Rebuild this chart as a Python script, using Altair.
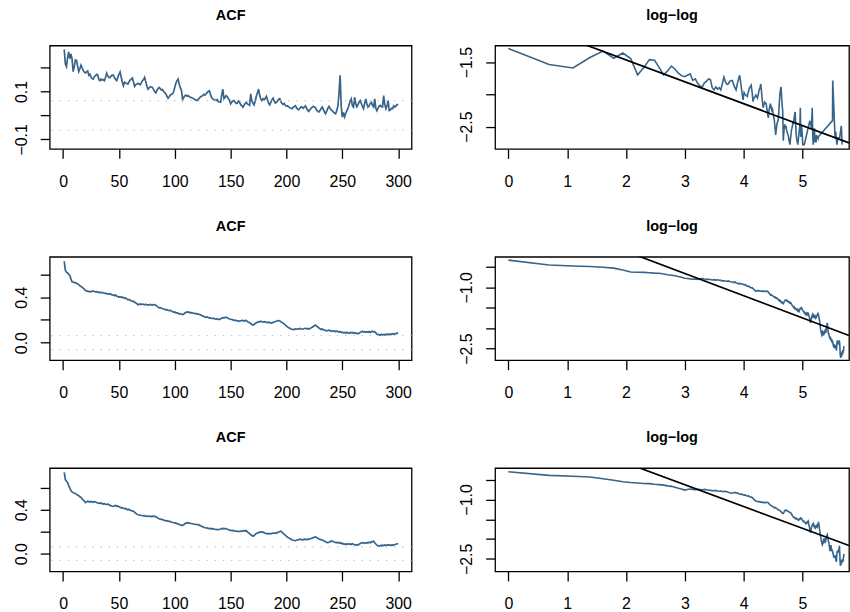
import altair as alt
import numpy as np
import pandas as pd

BLUE = "#36648B"

lags = list(range(1, 301))

acf_top = [
    0.276, 0.215, 0.204, 0.240, 0.265, 0.237, 0.257, 0.236, 0.183, 0.205,
    0.232, 0.230, 0.205, 0.183, 0.195, 0.210, 0.200, 0.188, 0.181, 0.178,
    0.182, 0.186, 0.168, 0.172, 0.160, 0.154, 0.152, 0.162, 0.166, 0.172,
    0.170, 0.150, 0.145, 0.152, 0.147, 0.150, 0.145, 0.160, 0.177, 0.165,
    0.158, 0.159, 0.165, 0.168, 0.168, 0.158, 0.150, 0.145, 0.160, 0.172,
    0.182, 0.160, 0.140, 0.124, 0.139, 0.135, 0.133, 0.131, 0.140, 0.148,
    0.152, 0.156, 0.140, 0.121, 0.128, 0.130, 0.134, 0.131, 0.128, 0.136,
    0.145, 0.150, 0.159, 0.140, 0.122, 0.110, 0.115, 0.120, 0.118, 0.117,
    0.108, 0.100, 0.094, 0.105, 0.112, 0.117, 0.112, 0.106, 0.108, 0.100,
    0.095, 0.090, 0.080, 0.072, 0.078, 0.085, 0.088, 0.090, 0.100, 0.118,
    0.135, 0.145, 0.152, 0.130, 0.115, 0.104, 0.066, 0.075, 0.082, 0.085,
    0.080, 0.083, 0.078, 0.076, 0.074, 0.072, 0.070, 0.066, 0.064, 0.062,
    0.068, 0.072, 0.078, 0.080, 0.083, 0.088, 0.085, 0.090, 0.096, 0.100,
    0.103, 0.088, 0.075, 0.069, 0.066, 0.064, 0.062, 0.066, 0.058, 0.056,
    0.055, 0.085, 0.110, 0.070, 0.075, 0.083, 0.078, 0.070, 0.062, 0.048,
    0.055, 0.060, 0.062, 0.055, 0.050, 0.052, 0.060, 0.055, 0.045, 0.040,
    0.034, 0.042, 0.050, 0.055, 0.048, 0.045, 0.042, 0.090, 0.060, 0.052,
    0.044, 0.060, 0.080, 0.095, 0.110, 0.085, 0.068, 0.062, 0.070, 0.065,
    0.072, 0.080, 0.065, 0.050, 0.044, 0.055, 0.065, 0.072, 0.060, 0.052,
    0.055, 0.060, 0.068, 0.070, 0.058, 0.050, 0.046, 0.050, 0.042, 0.039,
    0.040, 0.036, 0.032, 0.030, 0.028, 0.034, 0.038, 0.041, 0.032, 0.026,
    0.024, 0.030, 0.036, 0.034, 0.030, 0.036, 0.040, 0.030, 0.022, 0.017,
    0.024, 0.030, 0.034, 0.038, 0.035, 0.032, 0.022, 0.018, 0.014, 0.020,
    0.028, 0.035, 0.025, 0.014, 0.007, 0.018, 0.030, 0.038, 0.030, 0.022,
    0.020, 0.014, 0.010, 0.007, 0.020, 0.038, 0.090, 0.168, 0.040, -0.007,
    0.012, -0.006, 0.008, 0.020, 0.028, 0.045, 0.060, 0.069, 0.040, 0.035,
    0.076, 0.050, 0.036, 0.045, 0.055, 0.062, 0.050, 0.038, 0.028, 0.050,
    0.069, 0.048, 0.035, 0.040, 0.050, 0.055, 0.042, 0.035, 0.069, 0.030,
    0.020, 0.030, 0.040, 0.042, 0.036, 0.035, 0.083, 0.045, 0.028, 0.040,
    0.062, 0.020, 0.022, 0.030, 0.028, 0.040, 0.035, 0.040, 0.045, 0.045,
]

acf_mid = [
    0.715, 0.635, 0.620, 0.612, 0.600, 0.588, 0.560, 0.535, 0.532, 0.530,
    0.525, 0.520, 0.518, 0.510, 0.500, 0.494, 0.488, 0.478, 0.470, 0.458,
    0.455, 0.452, 0.448, 0.450, 0.446, 0.452, 0.455, 0.450, 0.446, 0.448,
    0.444, 0.440, 0.443, 0.438, 0.442, 0.436, 0.435, 0.430, 0.432, 0.428,
    0.426, 0.430, 0.424, 0.420, 0.418, 0.412, 0.420, 0.408, 0.406, 0.400,
    0.404, 0.398, 0.400, 0.397, 0.390, 0.392, 0.385, 0.377, 0.380, 0.372,
    0.368, 0.362, 0.365, 0.355, 0.350, 0.342, 0.333, 0.336, 0.340, 0.335,
    0.339, 0.336, 0.334, 0.336, 0.333, 0.330, 0.333, 0.336, 0.332, 0.330,
    0.334, 0.333, 0.328, 0.320, 0.312, 0.305, 0.308, 0.302, 0.300, 0.296,
    0.292, 0.288, 0.290, 0.284, 0.281, 0.284, 0.278, 0.272, 0.268, 0.270,
    0.261, 0.264, 0.258, 0.252, 0.255, 0.250, 0.246, 0.252, 0.260, 0.266,
    0.268, 0.270, 0.266, 0.262, 0.264, 0.261, 0.258, 0.254, 0.256, 0.250,
    0.252, 0.248, 0.244, 0.238, 0.235, 0.230, 0.226, 0.223, 0.226, 0.220,
    0.216, 0.218, 0.214, 0.212, 0.215, 0.208, 0.205, 0.210, 0.206, 0.203,
    0.210, 0.215, 0.220, 0.218, 0.222, 0.223, 0.218, 0.212, 0.208, 0.206,
    0.203, 0.200, 0.196, 0.198, 0.194, 0.190, 0.192, 0.188, 0.192, 0.196,
    0.194, 0.190, 0.195, 0.194, 0.185, 0.180, 0.176, 0.168, 0.160, 0.154,
    0.160, 0.168, 0.174, 0.180, 0.185, 0.182, 0.188, 0.184, 0.180, 0.185,
    0.183, 0.178, 0.176, 0.180, 0.176, 0.172, 0.174, 0.178, 0.182, 0.186,
    0.188, 0.192, 0.194, 0.190, 0.184, 0.178, 0.170, 0.165, 0.155, 0.145,
    0.138, 0.130, 0.126, 0.120, 0.118, 0.114, 0.116, 0.120, 0.118, 0.122,
    0.120, 0.125, 0.122, 0.118, 0.120, 0.124, 0.126, 0.122, 0.125, 0.120,
    0.124, 0.130, 0.136, 0.142, 0.148, 0.154, 0.145, 0.138, 0.128, 0.122,
    0.116, 0.120, 0.114, 0.110, 0.108, 0.104, 0.107, 0.110, 0.106, 0.100,
    0.104, 0.099, 0.103, 0.096, 0.102, 0.098, 0.093, 0.098, 0.090, 0.092,
    0.086, 0.090, 0.084, 0.091, 0.086, 0.082, 0.089, 0.086, 0.090, 0.083,
    0.087, 0.081, 0.084, 0.078, 0.083, 0.090, 0.096, 0.100, 0.093, 0.097,
    0.092, 0.097, 0.091, 0.098, 0.090, 0.096, 0.100, 0.094, 0.097, 0.085,
    0.076, 0.068, 0.070, 0.065, 0.073, 0.068, 0.072, 0.067, 0.074, 0.069,
    0.076, 0.070, 0.077, 0.072, 0.079, 0.074, 0.080, 0.077, 0.084, 0.087,
]

acf_bot = [
    0.740, 0.675, 0.660, 0.648, 0.620, 0.598, 0.575, 0.563, 0.556, 0.550,
    0.548, 0.540, 0.535, 0.528, 0.518, 0.512, 0.500, 0.488, 0.480, 0.466,
    0.472, 0.478, 0.474, 0.470, 0.476, 0.472, 0.468, 0.474, 0.470, 0.466,
    0.462, 0.460, 0.458, 0.462, 0.456, 0.452, 0.455, 0.450, 0.448, 0.452,
    0.446, 0.440, 0.436, 0.432, 0.430, 0.436, 0.440, 0.432, 0.435, 0.428,
    0.422, 0.418, 0.420, 0.414, 0.410, 0.412, 0.405, 0.400, 0.404, 0.396,
    0.392, 0.390, 0.386, 0.378, 0.368, 0.360, 0.354, 0.352, 0.350, 0.348,
    0.348, 0.344, 0.346, 0.342, 0.340, 0.343, 0.340, 0.342, 0.338, 0.340,
    0.342, 0.340, 0.338, 0.330, 0.324, 0.318, 0.315, 0.312, 0.310, 0.306,
    0.302, 0.298, 0.300, 0.296, 0.294, 0.292, 0.288, 0.284, 0.282, 0.280,
    0.278, 0.274, 0.270, 0.266, 0.262, 0.258, 0.258, 0.264, 0.272, 0.278,
    0.280, 0.282, 0.278, 0.276, 0.275, 0.273, 0.270, 0.268, 0.266, 0.264,
    0.264, 0.260, 0.255, 0.250, 0.245, 0.240, 0.236, 0.234, 0.235, 0.230,
    0.228, 0.230, 0.226, 0.228, 0.225, 0.222, 0.220, 0.222, 0.218, 0.220,
    0.224, 0.228, 0.230, 0.226, 0.228, 0.228, 0.222, 0.218, 0.214, 0.212,
    0.210, 0.212, 0.208, 0.206, 0.205, 0.204, 0.200, 0.204, 0.206, 0.204,
    0.208, 0.210, 0.206, 0.210, 0.198, 0.190, 0.182, 0.172, 0.165, 0.159,
    0.165, 0.175, 0.183, 0.188, 0.192, 0.196, 0.198, 0.194, 0.198, 0.190,
    0.186, 0.182, 0.180, 0.184, 0.180, 0.182, 0.185, 0.188, 0.186, 0.190,
    0.186, 0.192, 0.198, 0.202, 0.204, 0.196, 0.185, 0.175, 0.168, 0.158,
    0.150, 0.144, 0.138, 0.132, 0.126, 0.122, 0.120, 0.118, 0.122, 0.126,
    0.128, 0.132, 0.130, 0.126, 0.128, 0.132, 0.130, 0.128, 0.132, 0.130,
    0.134, 0.138, 0.142, 0.146, 0.150, 0.152, 0.146, 0.140, 0.134, 0.130,
    0.128, 0.124, 0.120, 0.114, 0.108, 0.102, 0.100, 0.104, 0.110, 0.114,
    0.114, 0.108, 0.106, 0.100, 0.103, 0.099, 0.102, 0.095, 0.097, 0.090,
    0.092, 0.085, 0.088, 0.084, 0.090, 0.086, 0.089, 0.084, 0.090, 0.086,
    0.082, 0.078, 0.081, 0.076, 0.086, 0.092, 0.097, 0.101, 0.095, 0.099,
    0.096, 0.101, 0.098, 0.104, 0.100, 0.106, 0.110, 0.114, 0.100, 0.088,
    0.078, 0.071, 0.069, 0.074, 0.070, 0.078, 0.073, 0.079, 0.074, 0.078,
    0.081, 0.075, 0.079, 0.076, 0.080, 0.078, 0.084, 0.086, 0.090, 0.093,
]

# dotted significance bounds
ci_bound = 0.062

# log-log reference lines: [intercept, slope]
fit_top = [-0.785, -0.340]
fit_mid = [0.968, -0.544]
fit_bot = [1.021, -0.550]

acf_x_ticks = [0, 50, 100, 150, 200, 250, 300]
ll_x_ticks = [0, 1, 2, 3, 4, 5]

acf_x_dom = [-12, 312]
ll_x_dom = [-0.225, 5.79]

rows = [
    dict(acf=acf_top, fit=fit_top,
         acf_dom=[-0.14, 0.292], acf_ticks=[-0.1, 0.0, 0.1, 0.2], acf_show=[-0.1, 0.1],
         ll_dom=[-2.847, -1.242], ll_ticks=[-2.5, -2.0, -1.5], ll_show=[-2.5, -1.5]),
    dict(acf=acf_mid, fit=fit_mid,
         acf_dom=[-0.154, 0.754], acf_ticks=[0.0, 0.2, 0.4, 0.6], acf_show=[0.0, 0.4],
         ll_dom=[-2.787, -0.254], ll_ticks=[-2.5, -2.0, -1.5, -1.0, -0.5], ll_show=[-2.5, -1.0]),
    dict(acf=acf_bot, fit=fit_bot,
         acf_dom=[-0.162, 0.78], acf_ticks=[0.0, 0.2, 0.4, 0.6], acf_show=[0.0, 0.4],
         ll_dom=[-2.817, -0.208], ll_ticks=[-2.5, -2.0, -1.5, -1.0, -0.5], ll_show=[-2.5, -1.0]),
]

LEFT_W, RIGHT_W, H = 364, 356, 104


def shown_expr(vals):
    cond = " || ".join(f"abs(datum.value - ({v})) < 1e-6" for v in vals)
    return f"({cond}) ? datum.label : ''"


def y_axis(ticks, show):
    return alt.Axis(values=ticks, format=".1f", labelExpr=shown_expr(show),
                    labelOverlap=False, labelBound=False, labelFlush=False)


def x_axis(ticks):
    return alt.Axis(values=ticks, format="d", labelOverlap=False, labelFlush=False)


def acf_panel(r):
    df = pd.DataFrame({"lag": lags, "acf": r["acf"]})
    xsc = alt.Scale(domain=acf_x_dom, nice=False, zero=False)
    ysc = alt.Scale(domain=r["acf_dom"], nice=False, zero=False)
    xax = x_axis(acf_x_ticks)
    yax = y_axis(r["acf_ticks"], r["acf_show"])
    line = alt.Chart(df).mark_line(color=BLUE, strokeWidth=1.7, clip=True).encode(
        x=alt.X("lag:Q", title=None, scale=xsc, axis=xax),
        y=alt.Y("acf:Q", title=None, scale=ysc, axis=yax))
    ci_df = pd.DataFrame({"acf": [ci_bound, -ci_bound]})
    ci = alt.Chart(ci_df).mark_rule(color="#BEBEBE", strokeWidth=1.2,
                                    strokeDash=[1.2, 7]).encode(
        y=alt.Y("acf:Q", title=None, scale=ysc, axis=yax))
    return alt.layer(line, ci).properties(width=LEFT_W, height=H, title="ACF")


def ll_panel(r):
    acf = np.array(r["acf"])
    lag = np.array(lags, dtype=float)
    keep = acf > ci_bound - 0.0005
    df = pd.DataFrame({"lx": np.log(lag[keep]), "ly": np.log(acf[keep])})
    a, b = r["fit"]
    fx = np.array(ll_x_dom, dtype=float)
    fit_df = pd.DataFrame({"lx": fx, "ly": a + b * fx})
    xsc = alt.Scale(domain=ll_x_dom, nice=False, zero=False)
    ysc = alt.Scale(domain=r["ll_dom"], nice=False, zero=False)
    xax = x_axis(ll_x_ticks)
    yax = y_axis(r["ll_ticks"], r["ll_show"])
    enc = dict(x=alt.X("lx:Q", title=None, scale=xsc, axis=xax),
               y=alt.Y("ly:Q", title=None, scale=ysc, axis=yax))
    line = alt.Chart(df).mark_line(color=BLUE, strokeWidth=1.6, clip=True).encode(**enc)
    fit = alt.Chart(fit_df).mark_line(color="black", strokeWidth=1.7, clip=True).encode(**enc)
    return alt.layer(line, fit).properties(width=RIGHT_W, height=H, title="log\u2212log")


row_charts = [alt.hconcat(acf_panel(r), ll_panel(r), spacing=36) for r in rows]

chart = alt.vconcat(*row_charts, spacing=27.5).properties(
    padding={"left": 4, "top": 5, "right": 0, "bottom": 0}
).configure_view(
    stroke="black", strokeWidth=1.3
).configure_axis(
    domain=False, grid=False, tickColor="black", tickSize=9.5, tickWidth=1.3,
    labelFont="Liberation Sans", labelFontSize=16, labelColor="black",
    labelFlush=False, labelOverlap=False
).configure_axisX(
    labelPadding=15, minExtent=40, maxExtent=40
).configure_axisY(
    labelAngle=270, labelAlign="center", labelBaseline="bottom", labelPadding=11,
    minExtent=45, maxExtent=45
).configure_title(
    font="Liberation Sans", fontSize=14.5, fontWeight="bold", color="black",
    anchor="middle", offset=22.5, baseline="alphabetic"
)

chart.save("out.html", embed_options={"renderer": "svg", "actions": False})
